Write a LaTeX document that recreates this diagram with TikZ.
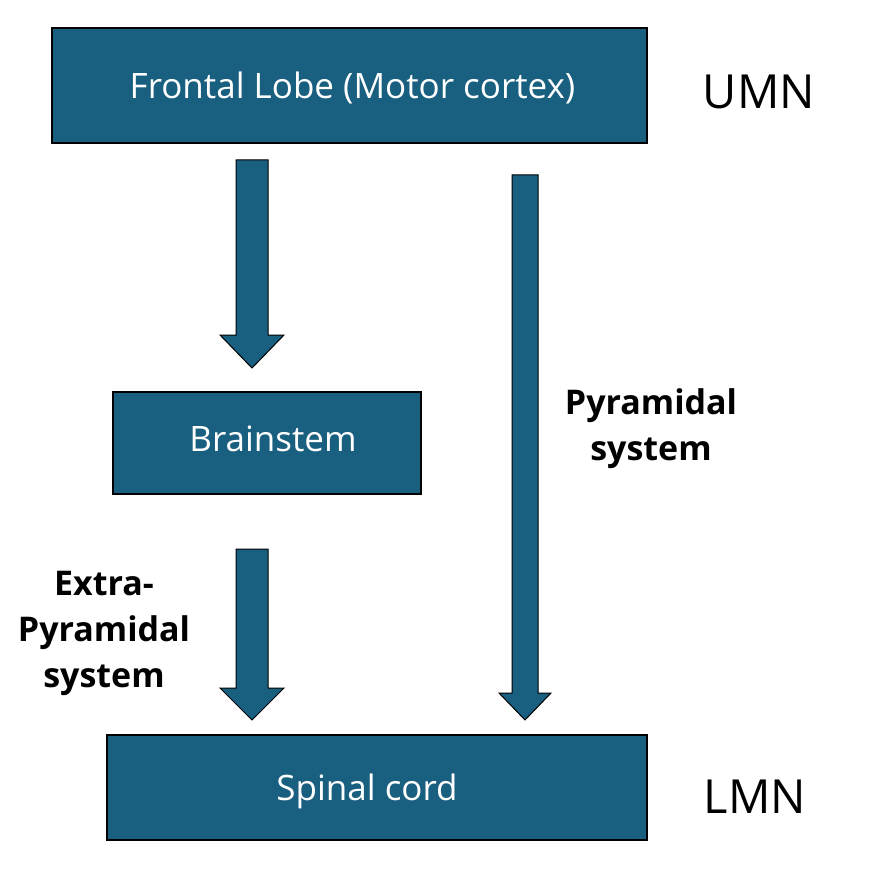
\documentclass[tikz,border=0pt]{standalone}
\usepackage{fontspec}
\setmainfont{Open Sans}
\usetikzlibrary{calc}
\definecolor{fillc}{HTML}{195F80}
\begin{document}
\begin{tikzpicture}[x=1pt,y=-1pt]
\useasboundingbox[fill=white] (0,0) rectangle (870,882);
\tikzset{
  box/.style={draw=black, line width=1.5pt, fill=fillc, inner sep=0pt},
  boxtext/.style={text=white, inner sep=0pt, font=\fontsize{35}{40}\selectfont},
  fatarr/.style={draw=black, line width=1pt, fill=fillc, line join=miter},
  lbl/.style={font=\bfseries\fontsize{34}{46}\selectfont, align=center, inner sep=0pt},
  side/.style={font=\fontsize{47}{52}\selectfont, inner sep=0pt}
}
\node[box, minimum width=595, minimum height=115] (frontal) at (349.5,85.5) {};
\node[boxtext] (frontalt) at ($(frontal.center)+(3,2)$) {Frontal Lobe (Motor cortex)};
\node[box, minimum width=308, minimum height=102] (brain) at (267,443) {};
\node[boxtext] (braint) at ($(brain.center)+(6,-4)$) {Brainstem};
\node[box, minimum width=540, minimum height=105] (spinal) at (377,787.5) {};
\node[boxtext] (spinalt) at ($(spinal.center)+(-10,4)$) {Spinal cord};
\node[side] (umn) at (759,92) {UMN};
\node[side] (lmn) at (755,797) {LMN};
\node[lbl] (pyr) at (651,429) {Pyramidal\\system};
\node[lbl] (extra) at (104,633) {Extra-\\Pyramidal\\system};
% arrow frontal -> brainstem
\draw[fatarr] (236,160) -- (268,160) -- (268,335) -- (284,335) -- (252,368) -- (220,335) -- (236,335) -- cycle;
% arrow brainstem -> spinal
\draw[fatarr] (236,549) -- (268,549) -- (268,688) -- (284,688) -- (252,720) -- (220,688) -- (236,688) -- cycle;
% pyramidal arrow frontal -> spinal
\draw[fatarr] (512,175) -- (538,175) -- (538,693) -- (551,693) -- (525,720) -- (499,693) -- (512,693) -- cycle;
\end{tikzpicture}
\end{document}
